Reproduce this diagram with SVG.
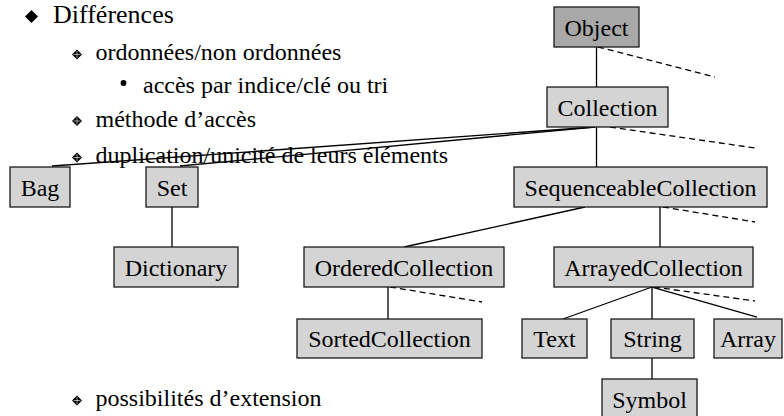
<svg xmlns="http://www.w3.org/2000/svg" width="784" height="416" viewBox="0 0 784 416">
<style>
.t{font-family:'Liberation Serif','DejaVu Serif',serif;fill:#000}
.b{font-size:24px}
.m{font-size:26px}
.n rect{fill:#d4d4d4;stroke:#1a1a1a;stroke-width:1.3}
.n text{font-family:'Liberation Serif','DejaVu Serif',serif;font-size:24px;text-anchor:middle;fill:#000}
#object rect{fill:#a8a8a8}
.c line{stroke:#000;stroke-width:1.3}
.c line.d{stroke-dasharray:6 4}
</style>
<defs>
<g id="sb"><path d="M0,-5L5,0L0,5L-5,0Z" fill="#000"/><path d="M-3.5,0H3.5M0,-3.5V3.5" stroke="#fff" stroke-width="0.6"/></g>
</defs>
<rect width="784" height="416" fill="#fff"/>
<g id="text">
<path d="M31.5,10L38,16.5L31.5,23L25,16.5Z" fill="#000"/>
<text class="t m" x="53" y="23" font-family="Liberation Serif">Différences</text>
<use href="#sb" x="77" y="54.5"/>
<text class="t b" x="95.5" y="60">ordonnées/non ordonnées</text>
<circle cx="123.5" cy="83" r="2.9" fill="#000"/>
<text class="t b" x="143" y="93">accès par indice/clé ou tri</text>
<use href="#sb" x="77" y="121"/>
<text class="t b" x="95.5" y="126.5">méthode d’accès</text>
<use href="#sb" x="77" y="157.5"/>
<text class="t b" x="95.5" y="163">duplication/unicité de leurs éléments</text>
<use href="#sb" x="77" y="400.5"/>
<text class="t b" x="95.5" y="406">possibilités d’extension</text>
</g>
<g id="connectors" class="c">
<line x1="596.5" y1="47" x2="596.5" y2="87"/>
<line class="d" x1="598" y1="47" x2="715" y2="77"/>
<line x1="595" y1="127" x2="52" y2="166"/>
<line x1="595" y1="127" x2="180" y2="166"/>
<line x1="596.5" y1="127" x2="596.5" y2="167"/>
<line class="d" x1="610" y1="127" x2="755" y2="148"/>
<line x1="585" y1="207" x2="404" y2="247"/>
<line x1="660" y1="207" x2="660" y2="247"/>
<line class="d" x1="663" y1="207" x2="755" y2="222"/>
<line x1="172" y1="207" x2="172" y2="247"/>
<line x1="388" y1="287" x2="388" y2="319"/>
<line class="d" x1="390" y1="287" x2="482" y2="302"/>
<line x1="652" y1="287" x2="563" y2="319"/>
<line x1="652" y1="287" x2="652" y2="319"/>
<line x1="652" y1="287" x2="757" y2="317"/>
<line class="d" x1="654" y1="287" x2="755" y2="301"/>
<line x1="652" y1="358" x2="652" y2="379"/>
</g>
<g id="object" class="n"><rect x="554" y="7" width="85" height="40"/><text x="596.5" y="36">Object</text></g>
<g id="collection" class="n"><rect x="547" y="87" width="121" height="40"/><text x="607.5" y="116">Collection</text></g>
<g id="sequenceable" class="n"><rect x="514" y="167" width="253" height="40"/><text x="640.5" y="196">SequenceableCollection</text></g>
<g id="bag" class="n"><rect x="10" y="167" width="60" height="40"/><text x="40" y="196">Bag</text></g>
<g id="set" class="n"><rect x="146" y="167" width="52" height="40"/><text x="172" y="196">Set</text></g>
<g id="dictionary" class="n"><rect x="114" y="247" width="124" height="40"/><text x="176" y="276">Dictionary</text></g>
<g id="ordered" class="n"><rect x="304" y="247" width="200" height="40"/><text x="404" y="276">OrderedCollection</text></g>
<g id="arrayed" class="n"><rect x="554" y="247" width="199" height="40"/><text x="653.5" y="276">ArrayedCollection</text></g>
<g id="sorted" class="n"><rect x="297" y="319" width="185" height="39"/><text x="389.5" y="347">SortedCollection</text></g>
<g id="textnode" class="n"><rect x="522" y="319" width="65" height="39"/><text x="554.5" y="347">Text</text></g>
<g id="string" class="n"><rect x="611" y="319" width="83" height="39"/><text x="652.5" y="347">String</text></g>
<g id="array" class="n"><rect x="714" y="319" width="68" height="39"/><text x="748" y="347">Array</text></g>
<g id="symbol" class="n"><rect x="602" y="379" width="95" height="40"/><text x="649.5" y="408">Symbol</text></g>
</svg>
